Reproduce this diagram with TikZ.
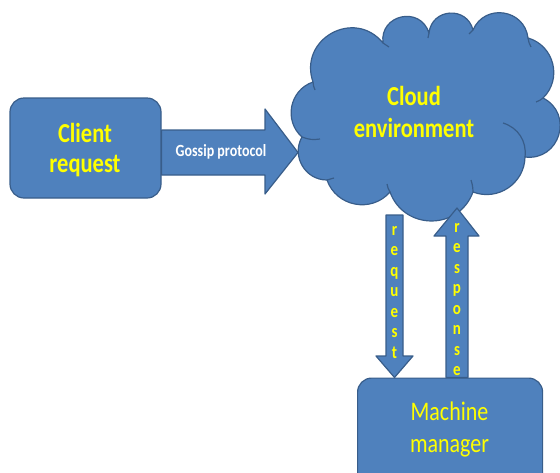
\documentclass[tikz,border=0pt]{standalone}
\usepackage{fontspec}
\usepackage{graphicx}
\setmainfont{Carlito}
\usetikzlibrary{calc}
\definecolor{shapefill}{HTML}{4F81BD}
\definecolor{shapeline}{HTML}{385D8A}
\definecolor{labelyellow}{HTML}{FFFF00}
% labels are set a little taller than the font's own proportions
\newcommand{\tallbox}[1]{\scalebox{1}[1.22]{#1}}
\tikzset{
  shapestyle/.style={fill=shapefill, draw=shapeline, line width=1.2pt, line join=round},
  boxstyle/.style={shapestyle, rounded corners=14pt, inner sep=0pt},
  crease/.style={draw=shapeline, line width=1.2pt},
  lobe/.style 2 args={bend left=#1, looseness=#2},
  bigtext/.style={text=labelyellow, font=\fontsize{22.5}{26}\selectfont\bfseries, anchor=base},
  mgrtext/.style={text=labelyellow, font=\fontsize{22}{26}\selectfont, anchor=base},
  lettertext/.style={text=labelyellow, font=\fontsize{15}{16}\selectfont\bfseries, anchor=base, inner sep=0pt},
  arrowtext/.style={text=white, font=\fontsize{14}{16}\selectfont\bfseries, anchor=base}
}
\begin{document}
\begin{tikzpicture}[x=1pt, y=1pt]
\useasboundingbox (0,0) rectangle (560,-472);
\clip (0,0) rectangle (560,-472);

% client box
\node[boxstyle, minimum width=151pt, minimum height=100pt] (client) at (85.5,-148) {};

% cloud outline: one arc per lobe
\coordinate (j1) at (313,-82);
\coordinate (j2) at (383,-43);
\coordinate (j3) at (429,-33);
\coordinate (j4) at (473,-30);
\coordinate (j5) at (528,-38);
\coordinate (j6) at (543,-98);
\coordinate (j7) at (525,-157);
\coordinate (j8) at (473,-192);
\coordinate (j9) at (390,-192);
\coordinate (j10) at (327,-180);
\coordinate (j11) at (302,-137);
\path[shapestyle] (j1) to[lobe={80}{1.45}] (j2) to[lobe={85}{1.57}] (j3)
  to[lobe={80}{1.45}] (j4) to[lobe={75}{1.35}] (j5) to[lobe={60}{1.13}] (j6)
  to[lobe={80}{1.45}] (j7) to[lobe={55}{1.08}] (j8) to[lobe={70}{1.27}] (j9)
  to[lobe={60}{1.13}] (j10) to[lobe={60}{1.13}] (j11) to[lobe={60}{1.13}] (j1) -- cycle;
% inner creases of the cloud
\draw[crease] (j1) to[bend right=10] (315,-90);
\draw[crease] (j2) to[bend left=10] (389,-47);
\draw[crease] (j3) -- (428,-38);
\draw[crease] (j4) -- (469,-34);
\draw[crease] (j5) to[bend right=10] (531,-47);
\draw[crease] (j6) to[bend left=10] (536,-102);
\draw[crease] (503,-123) to[bend left=40] (j7);
\draw[crease] (j8) to[bend right=8] (471,-180);
\draw[crease] (j9) to[bend left=10] (387,-184);
\draw[crease] (j10) to[bend left=10] (334,-178);
\draw[crease] (j11) to[bend right=15] (320,-139);
\node (cloud) at (424,-117) {};
\node[bigtext] (cloudA) at (414,-105) {\tallbox{Cloud}};
\node[bigtext] (cloudB) at (414,-137) {\tallbox{environment}};

% gossip block arrow from the client box to the cloud
\coordinate (gtip) at (298,-152.5);
\path[shapestyle] ($(client.east)+(0,-4.5+22.5)$) -- (265,-130) -- (265,-109) -- (gtip)
  -- (265,-194) -- (265,-175) -- ($(client.east)+(0,-4.5-22.5)$) -- cycle;
\node[arrowtext] (gossip) at (221,-156) {\tallbox{Gossip protocol}};

% machine manager box
\node[boxstyle, minimum width=185pt, minimum height=113pt, anchor=north west] (mgr) at (357,-377.5) {};

% request arrow: cloud down to the manager
\coordinate (rqtop) at (394.5,-215);
\path[shapestyle] ($(rqtop)+(-8.5,0)$) -- ($(rqtop)+(8.5,0)$) -- (403,-356) -- (413,-356)
  -- (394.5,-377.5) -- (376,-356) -- (386,-356) -- cycle;
% response arrow: manager up to the cloud
\coordinate (rstip) at (457,-208);
\path[shapestyle] (446,-377.5) -- (446,-236) -- (434,-236) -- (rstip) -- (479,-236)
  -- (468,-236) -- (468,-377.5) -- cycle;

\foreach \c [count=\i] in {r,e,q,u,e,s,t}
  \node[lettertext] (rq\i) at (394.5,{-235-20.5*(\i-1)}) {\tallbox{\c}};
\foreach \c [count=\i] in {r,e,s,p,o,n,s,e}
  \node[lettertext] (rs\i) at (457,{-232-20.5*(\i-1)}) {\tallbox{\c}};

% box labels
\node[bigtext] (clientA) at (85,-142) {\tallbox{Client}};
\node[bigtext] (clientB) at (85,-172) {\tallbox{request}};
\node[mgrtext] (mgrA) at (449.5,-420) {\tallbox{Machine}};
\node[mgrtext] (mgrB) at (449.5,-452) {\tallbox{manager}};
\end{tikzpicture}
\end{document}
